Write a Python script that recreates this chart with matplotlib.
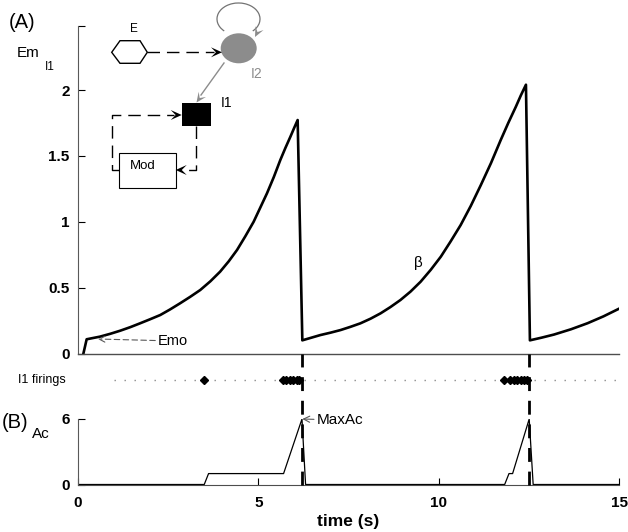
#!/usr/bin/env python3
"""Recreates the Em_I1 / Ac figure with the small circuit diagram."""
import matplotlib
matplotlib.use("Agg")
import matplotlib.pyplot as plt
from matplotlib.lines import Line2D
from matplotlib.patches import Polygon, Rectangle, Ellipse, Arc
from matplotlib.transforms import blended_transform_factory
import numpy as np

plt.rcParams['font.family'] = ['Liberation Sans', 'DejaVu Sans']

# Em_I1 trace (three segments between resets)
em_t = [0.15, 0.24, 0.61, 0.90, 1.17, 1.45, 1.72, 2.00, 2.28, 2.55, 2.83,
        3.11, 3.39, 3.67, 3.94, 4.18, 4.41, 4.64, 4.87, 5.05, 5.24, 5.43,
        5.61, 5.75, 5.89, 5.99, 6.09,
        6.22, 6.47, 6.72, 7.00, 7.28, 7.55, 7.83, 8.11, 8.39, 8.66, 8.94,
        9.22, 9.50, 9.78, 10.06, 10.33, 10.61, 10.89, 11.17, 11.45, 11.72,
        11.93, 12.14, 12.28, 12.42,
        12.53, 12.85, 13.20, 13.67, 14.13, 14.57, 15.0]
em_v = [0.0, 0.108, 0.128, 0.150, 0.173, 0.200, 0.229, 0.260, 0.292, 0.334,
        0.381, 0.430, 0.482, 0.548, 0.621, 0.700, 0.786, 0.890, 1.0, 1.105,
        1.216, 1.340, 1.469, 1.560, 1.646, 1.710, 1.772,
        0.10, 0.120, 0.140, 0.158, 0.178, 0.202, 0.229, 0.264, 0.305, 0.352,
        0.406, 0.470, 0.545, 0.635, 0.735, 0.850, 0.975, 1.120, 1.279, 1.445,
        1.620, 1.750, 1.873, 1.960, 2.04,
        0.10, 0.120, 0.144, 0.184, 0.23, 0.282, 0.34]

# I1 firing times
firing_t = [3.50, 5.68, 5.78, 5.88, 5.97, 6.06, 6.14,
            11.80, 11.98, 12.08, 12.18, 12.27, 12.36, 12.45]
firing_row = [1.0, 15.0]

# Ac trace
ac_t = [0.0, 3.50, 3.62, 5.70, 6.21, 6.31, 11.83, 11.95, 12.05, 12.51, 12.62, 15.0]
ac_v = [0, 0, 1, 1, 6, 0, 0, 1, 1, 6, 0, 0]

# reset instants (dashed vertical lines)
reset_t = [6.22, 12.50]

em_yticks = [0, 0.5, 1, 1.5, 2]
em_ytick_labels = ['0', '0.5', '1', '1.5', '2']
ac_yticks = [0, 6]
time_ticks = [0, 5, 10, 15]

W, H = 628, 532


def fx(px):
    return px / W


def fy(py):
    return 1 - py / H


def head(ax, tip, direction, color, length=11, width=5):
    """Notched arrow head in pixel coords of the overlay axes."""
    d = np.array(direction, float)
    d /= np.linalg.norm(d)
    n = np.array([-d[1], d[0]])
    tip = np.array(tip, float)
    pts = [tip, tip - length * d + width * n, tip - 0.55 * length * d,
           tip - length * d - width * n]
    ax.add_patch(Polygon(pts, closed=True, color=color, lw=0, zorder=5))


def main():
    fig = plt.figure(figsize=(W / 100, H / 100), dpi=100)

    left, right = fx(78), fx(619)
    top_ymax = (353.5 - 26) / 131.75

    # --- panel A: Em_I1
    ax_em = fig.add_axes([left, fy(353.5), right - left, fy(26) - fy(353.5)])
    ax_em.plot(em_t, em_v, color='black', lw=1.9)
    ax_em.set_xlim(0, 15)
    ax_em.set_ylim(0, top_ymax)
    ax_em.set_yticks(em_yticks, em_ytick_labels, fontweight='bold', fontsize=11)
    ax_em.set_yticks([top_ymax], minor=True)
    ax_em.set_xticks([])
    ax_em.tick_params(axis='y', which='both', direction='in', length=5, width=0.8, pad=6)
    for s in ['top', 'right']:
        ax_em.spines[s].set_visible(False)
    ax_em.spines['left'].set_color('0.35')
    ax_em.spines['left'].set_linewidth(0.8)
    ax_em.spines['bottom'].set_linewidth(1.0)
    ax_em.spines['bottom'].set_color('0.3')
    ax_em.text(9.44, 0.69, 'β', fontsize=11, ha='center', va='center')
    ax_em.annotate('Emo', xy=(0.55, 0.11), xytext=(2.22, 0.095),
                   fontsize=10.5, ha='left', va='center',
                   arrowprops=dict(arrowstyle='->', color='0.35', lw=0.8,
                                   ls=(0, (5, 3)), shrinkA=0, shrinkB=0))

    # --- firings row
    ax_f = fig.add_axes([left, fy(419), right - left, fy(353.5) - fy(419)])
    ax_f.plot(firing_row, [0.6, 0.6], color='0.55', lw=1.0, ls=(0, (1, 6.2)))
    ax_f.plot(firing_t, [0.6] * len(firing_t), ls='none', marker='D',
              color='black', markersize=4)
    ax_f.set_xlim(0, 15)
    ax_f.set_ylim(0, 1)
    ax_f.axis('off')

    # --- panel B: Ac
    ax_ac = fig.add_axes([left, fy(484.5), right - left, fy(419) - fy(484.5)])
    ax_ac.plot(ac_t, ac_v, color='black', lw=0.9)
    ax_ac.set_xlim(0, 15)
    ax_ac.set_ylim(0, 6)
    ax_ac.set_yticks(ac_yticks, [str(v) for v in ac_yticks], fontweight='bold', fontsize=11)
    ax_ac.set_xticks(time_ticks, [str(v) for v in time_ticks], fontweight='bold', fontsize=11)
    ax_ac.tick_params(direction='in', length=5, width=0.8, pad=8)
    ax_ac.tick_params(axis='y', pad=6)
    for s in ['top', 'right']:
        ax_ac.spines[s].set_visible(False)
    ax_ac.spines['left'].set_color('0.35')
    ax_ac.spines['left'].set_linewidth(0.8)
    ax_ac.spines['bottom'].set_color('0.3')
    ax_ac.set_xlabel('time (s)', fontweight='bold', fontsize=12.5, labelpad=3)
    ax_ac.annotate('MaxAc', xy=(6.22, 6), xytext=(6.62, 5.9), fontsize=11,
                   ha='left', va='center',
                   arrowprops=dict(arrowstyle='->', color='0.35', lw=0.8,
                                   shrinkA=0, shrinkB=0))

    # dashed reset lines spanning firings row and Ac panel
    trans = blended_transform_factory(ax_ac.transData, fig.transFigure)
    for t in reset_t:
        fig.add_artist(Line2D([t, t], [fy(484.5), fy(353.5)], transform=trans,
                              color='black', lw=2.0, ls=(0, (5, 3.5))))

    # --- labels
    fig.text(fx(9), fy(22), '(A)', fontsize=14.5, va='center', ha='left')
    fig.text(fx(17), fy(53), 'Em', fontsize=11, va='center', ha='left')
    fig.text(fx(45), fy(67), 'I1', fontsize=8.5, va='center', ha='left')
    fig.text(fx(2), fy(423), '(B)', fontsize=14.5, va='center', ha='left')
    fig.text(fx(32), fy(434), 'Ac', fontsize=11, va='center', ha='left')
    fig.text(fx(18), fy(380), 'I1 firings', fontsize=9, va='center', ha='left')

    # --- circuit sketch (pixel coordinates)
    ax_d = fig.add_axes([0, 0, 1, 1])
    ax_d.set_xlim(0, W)
    ax_d.set_ylim(H, 0)
    ax_d.axis('off')

    hexagon = [(111.7, 52.3), (120, 40.7), (140, 40.7), (147.3, 52.3),
               (140, 63.3), (120, 63.3)]
    ax_d.add_patch(Polygon(hexagon, closed=True, fill=False, ec='black', lw=1.0))
    ax_d.text(134, 29, 'E', fontsize=8.5, ha='center', va='center')

    dash = (0, (9, 5))
    ax_d.plot([147.3, 214], [52.3, 52.3], color='black', lw=1.0, ls=dash)
    head(ax_d, (222, 52.3), (1, 0), 'black')

    ax_d.add_patch(Arc((238.5, 19), 43, 32, theta1=140, theta2=400,
                       color='0.45', lw=0.9))
    head(ax_d, (255, 37), (-0.5, 1), '0.55', length=10, width=4.5)
    ax_d.add_patch(Ellipse((238.7, 48.3), 36, 30, color='0.55', lw=0))
    ax_d.text(257, 74, 'I2', fontsize=10, color='0.55', ha='center', va='center')

    ax_d.plot([224, 201], [63, 95], color='0.55', lw=1.0)
    head(ax_d, (196.5, 102.5), (-0.58, 0.81), '0.55', length=10, width=4.5)

    ax_d.add_patch(Rectangle((181.7, 103.3), 29, 22.7, color='black', lw=0))
    ax_d.text(227, 103, 'I1', fontsize=10, ha='center', va='center')

    ax_d.plot([119.3, 111.7, 111.7, 174], [170, 170, 115, 115], color='black',
              lw=1.0, ls=dash)
    head(ax_d, (181.7, 115), (1, 0), 'black')
    ax_d.plot([195.7, 195.7, 184], [126, 170, 170], color='black', lw=1.0, ls=dash)
    head(ax_d, (175.7, 170), (-1, 0), 'black')

    ax_d.add_patch(Rectangle((119.3, 153.3), 56.4, 34.7, fill=False,
                             ec='black', lw=0.8))
    ax_d.text(143, 166, 'Mod', fontsize=9.5, ha='center', va='center')

    fig.savefig('out.png', dpi=100)


if __name__ == "__main__":
    main()
